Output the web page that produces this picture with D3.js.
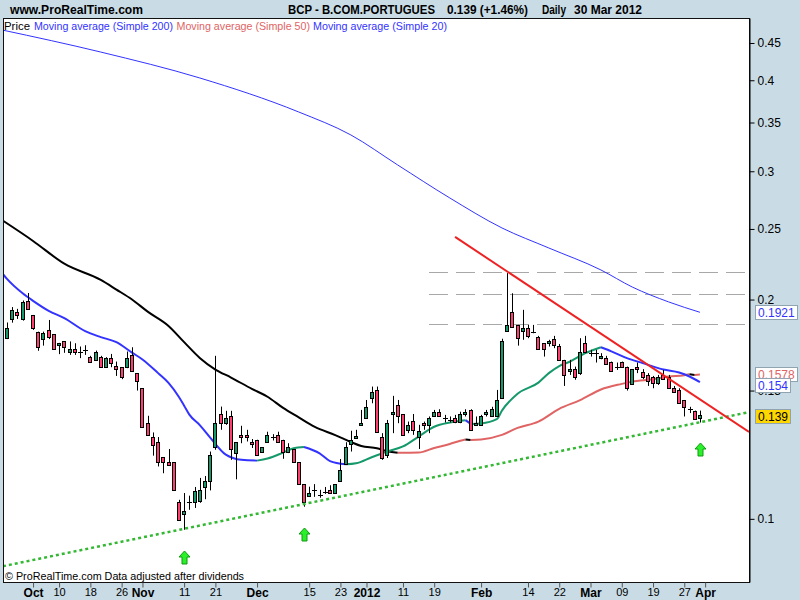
<!DOCTYPE html>
<html><head><meta charset="utf-8">
<script src="https://cdn.jsdelivr.net/npm/d3@7"></script>
<style>body{margin:0;background:#c9dce6;}svg{display:block}</style>
</head><body>
<svg id="c" width="800" height="600"></svg>
<script>
// ---------- DATA ----------
const dates = [
"2011-09-26","2011-09-27","2011-09-28","2011-09-29","2011-09-30",
"2011-10-03","2011-10-04","2011-10-05","2011-10-06","2011-10-07","2011-10-10","2011-10-11","2011-10-12","2011-10-13","2011-10-14","2011-10-17","2011-10-18","2011-10-19","2011-10-20","2011-10-21","2011-10-24","2011-10-25","2011-10-26","2011-10-27","2011-10-28","2011-10-31",
"2011-11-01","2011-11-02","2011-11-03","2011-11-04","2011-11-07","2011-11-08","2011-11-09","2011-11-10","2011-11-11","2011-11-14","2011-11-15","2011-11-16","2011-11-17","2011-11-18","2011-11-21","2011-11-22","2011-11-23","2011-11-24","2011-11-25","2011-11-28","2011-11-29","2011-11-30",
"2011-12-01","2011-12-02","2011-12-05","2011-12-06","2011-12-07","2011-12-08","2011-12-09","2011-12-12","2011-12-13","2011-12-14","2011-12-15","2011-12-16","2011-12-19","2011-12-20","2011-12-21","2011-12-22","2011-12-23","2011-12-27","2011-12-28","2011-12-29","2011-12-30",
"2012-01-02","2012-01-03","2012-01-04","2012-01-05","2012-01-06","2012-01-09","2012-01-10","2012-01-11","2012-01-12","2012-01-13","2012-01-16","2012-01-17","2012-01-18","2012-01-19","2012-01-20","2012-01-23","2012-01-24","2012-01-25","2012-01-26","2012-01-27","2012-01-30","2012-01-31",
"2012-02-01","2012-02-02","2012-02-03","2012-02-06","2012-02-07","2012-02-08","2012-02-09","2012-02-10","2012-02-13","2012-02-14","2012-02-15","2012-02-16","2012-02-17","2012-02-20","2012-02-21","2012-02-22","2012-02-23","2012-02-24","2012-02-27","2012-02-28","2012-02-29",
"2012-03-01","2012-03-02","2012-03-05","2012-03-06","2012-03-07","2012-03-08","2012-03-09","2012-03-12","2012-03-13","2012-03-14","2012-03-15","2012-03-16","2012-03-19","2012-03-20","2012-03-21","2012-03-22","2012-03-23","2012-03-26","2012-03-27","2012-03-28","2012-03-29","2012-03-30"];

const open = [
.1770,.1879,.1922,.1879,.1990,.1903,.1807,.1765,.1819,.1793,.1731,.1754,.1693,.1710,.1697,.1704,.1670,.1651,.1670,.1618,
.1662,.1622,.1615,.1615,.1681,.1585,.1511,.1353,.1295,.1274,.1215,.1196,.1196,.1054,.1015,.1054,.1055,.1059,.1105,.1126,
.1254,.1392,.1353,.1383,.1233,.1303,.1303,.1274,.1284,.1234,.1274,.1295,.1303,.1284,.1236,.1247,.1196,.1115,.1076,.1096,
.1078,.1090,.1094,.1085,.1126,.1190,.1267,.1293,.1345,.1374,.1464,.1503,.1295,.1224,.1392,.1434,.1392,.1325,.1364,.1297,
.1353,.1346,.1385,.1403,.1377,.1367,.1374,.1356,.1393,.1411,.1346,.1346,.1392,.1382,.1382,.1464,.1811,.1922,.1846,.1811,
.1830,.1807,.1779,.1742,.1742,.1765,.1727,.1653,.1597,.1605,.1585,.1742,.1688,.1688,.1662,.1662,.1641,.1618,.1641,.1618,
.1531,.1618,.1592,.1576,.1565,.1535,.1576,.1565,.1511,.1503,.1456,.1414,.1408,.1375];
const high = [
.1860,.1953,.1942,.1994,.2042,.1905,.1807,.1807,.1875,.1793,.1744,.1754,.1752,.1742,.1724,.1731,.1674,.1702,.1674,.1667,
.1684,.1644,.1615,.1697,.1720,.1585,.1511,.1385,.1314,.1295,.1215,.1247,.1196,.1062,.1085,.1076,.1106,.1138,.1145,.1237,
.1674,.1426,.1407,.1407,.1274,.1342,.1325,.1287,.1284,.1254,.1317,.1307,.1317,.1284,.1270,.1247,.1196,.1115,.1107,.1116,
.1096,.1106,.1112,.1115,.1208,.1274,.1321,.1325,.1411,.1456,.1519,.1519,.1311,.1367,.1475,.1456,.1392,.1360,.1393,.1346,
.1360,.1382,.1411,.1414,.1389,.1382,.1389,.1403,.1414,.1414,.1382,.1389,.1411,.1425,.1503,.1767,.2174,.2040,.1846,.1936,
.1846,.1846,.1783,.1742,.1761,.1783,.1738,.1653,.1653,.1618,.1770,.1783,.1706,.1706,.1688,.1674,.1644,.1639,.1644,.1618,
.1605,.1639,.1605,.1585,.1571,.1576,.1601,.1576,.1522,.1511,.1456,.1425,.1408,.1408];
const low = [
.1765,.1859,.1881,.1871,.1936,.1817,.1701,.1729,.1765,.1706,.1683,.1690,.1679,.1679,.1662,.1679,.1637,.1648,.1611,.1615,
.1615,.1571,.1555,.1610,.1591,.1500,.1336,.1303,.1221,.1180,.1155,.1185,.1095,.0997,.0966,.1029,.1035,.1052,.1064,.1094,
.1244,.1325,.1346,.1205,.1133,.1270,.1277,.1251,.1223,.1234,.1274,.1281,.1274,.1209,.1231,.1196,.1115,.1039,.1072,.1072,
.1069,.1082,.1085,.1085,.1126,.1190,.1237,.1293,.1345,.1374,.1441,.1315,.1205,.1212,.1311,.1353,.1301,.1311,.1304,.1247,
.1325,.1311,.1382,.1382,.1356,.1356,.1353,.1353,.1382,.1322,.1346,.1346,.1382,.1382,.1382,.1464,.1811,.1832,.1729,.1761,
.1770,.1798,.1706,.1670,.1724,.1715,.1653,.1522,.1576,.1552,.1576,.1688,.1670,.1639,.1656,.1627,.1592,.1601,.1615,.1500,
.1527,.1585,.1555,.1522,.1511,.1527,.1552,.1511,.1490,.1438,.1382,.1397,.1367,.1356];
const close = [
.1830,.1932,.1903,.1983,.1940,.1830,.1720,.1802,.1779,.1710,.1742,.1720,.1710,.1693,.1697,.1704,.1641,.1693,.1615,.1660,
.1639,.1605,.1565,.1660,.1594,.1544,.1336,.1303,.1264,.1196,.1196,.1185,.1095,.0997,.1025,.1054,.1093,.1094,.1126,.1224,
.1353,.1353,.1374,.1247,.1274,.1295,.1295,.1266,.1223,.1254,.1303,.1295,.1274,.1234,.1254,.1196,.1115,.1053,.1085,.1096,
.1078,.1090,.1085,.1115,.1167,.1254,.1284,.1301,.1353,.1422,.1492,.1315,.1211,.1353,.1403,.1385,.1304,.1346,.1325,.1322,
.1346,.1374,.1403,.1385,.1377,.1367,.1356,.1392,.1403,.1325,.1353,.1382,.1403,.1414,.1456,.1755,.1846,.1832,.1770,.1830,
.1783,.1807,.1710,.1710,.1755,.1733,.1653,.1576,.1605,.1565,.1693,.1693,.1688,.1688,.1674,.1632,.1596,.1618,.1618,.1511,
.1605,.1605,.1565,.1544,.1535,.1565,.1557,.1511,.1492,.1441,.1424,.1414,.1370,.1390];

// Moving averages (sample dates + values)
const sma200Dates = ["2011-09-23","2011-10-20","2011-11-16","2011-12-13","2011-12-28","2012-01-10","2012-01-24","2012-02-07","2012-02-20","2012-03-05","2012-03-13","2012-03-22","2012-03-30"];
const sma200 = [0.4690,0.4373,0.4029,0.3618,0.3365,0.3060,0.2757,0.2508,0.2354,0.2196,0.2081,0.1985,0.1921];

const sma50Dates = ["2011-09-23","2011-10-03","2011-10-11","2011-10-20","2011-10-25","2011-10-28","2011-11-02","2011-11-08","2011-11-11","2011-11-16","2011-11-21","2011-11-24","2011-11-30","2011-12-05","2011-12-08","2011-12-13","2011-12-16","2011-12-22","2011-12-28","2011-12-30","2012-01-04","2012-01-06","2012-01-10","2012-01-16","2012-01-19","2012-01-24","2012-01-26","2012-01-27","2012-01-30","2012-02-01","2012-02-07","2012-02-10","2012-02-16","2012-02-22","2012-02-28","2012-03-05","2012-03-09","2012-03-13","2012-03-19","2012-03-22","2012-03-27","2012-03-28","2012-03-29","2012-03-30"];
const sma50 = [0.2572,0.2407,0.2240,0.2128,0.2064,0.2000,0.1925,0.1840,0.1748,0.1663,0.1603,0.1563,0.1508,0.1471,0.1420,0.1378,0.1338,0.1303,0.1275,0.1259,0.1250,0.1238,0.1232,0.1233,0.1251,0.1267,0.1280,0.1285,0.1283,0.1285,0.1304,0.1333,0.1360,0.1416,0.1455,0.1505,0.1532,0.1543,0.1555,0.1568,0.1574,0.1579,0.1576,0.1578];

const sma20Dates = ["2011-09-23","2011-09-26","2011-09-29","2011-10-03","2011-10-06","2011-10-11","2011-10-17","2011-10-20","2011-10-25","2011-10-28","2011-11-01","2011-11-04","2011-11-08","2011-11-10","2011-11-11","2011-11-14","2011-11-16","2011-11-18","2011-11-23","2011-11-28","2011-12-01","2011-12-05","2011-12-08","2011-12-12","2011-12-14","2011-12-19","2011-12-21","2011-12-27","2011-12-29","2012-01-03","2012-01-06","2012-01-11","2012-01-16","2012-01-19","2012-01-24","2012-01-27","2012-01-30","2012-02-01","2012-02-06","2012-02-07","2012-02-10","2012-02-16","2012-02-20","2012-02-22","2012-02-24","2012-02-29","2012-03-05","2012-03-07","2012-03-12","2012-03-15","2012-03-21","2012-03-26","2012-03-28","2012-03-30"];
const sma20 = [0.2178,0.2135,0.2040,0.1992,0.1930,0.1886,0.1810,0.1776,0.1748,0.1691,0.1655,0.1585,0.1537,0.1470,0.1430,0.1390,0.1345,0.1293,0.1225,0.1205,0.1202,0.1210,0.1233,0.1250,0.1255,0.1230,0.1200,0.1188,0.1192,0.1215,0.1237,0.1257,0.1297,0.1338,0.1356,0.1366,0.1350,0.1352,0.1370,0.1408,0.1485,0.1538,0.1585,0.1621,0.1643,0.1688,0.1720,0.1698,0.1662,0.1636,0.1603,0.1588,0.1568,0.1540];

// drawn objects
const levelValues = [0.2181, 0.2036, 0.1849];
const levelStart = "2012-01-18";
const resistDates = ["2012-01-25","2012-03-30"];
const resistValues = [0.2438, 0.1459];
const supportDates = ["2011-11-11","2012-03-30"];
const supportValues = [0.0969, 0.1357];
const signalDates = ["2011-11-11","2011-12-14","2012-03-30"];

const yTicks = [0.1,0.15,0.2,0.25,0.3,0.35,0.4,0.45];
const yTickLabels = ["0.1","0.15","0.2","0.25","0.3","0.35","0.4","0.45"];
const xTickDates = ["2011-10-03","2011-10-10","2011-10-18","2011-10-26","2011-11-01","2011-11-11","2011-11-21","2011-12-01","2011-12-15","2011-12-23","2012-01-02","2012-01-11","2012-01-19","2012-02-01","2012-02-14","2012-02-22","2012-03-01","2012-03-09","2012-03-19","2012-03-27","2012-04-02"];
const xTickLabels = ["Oct","10","18","26","Nov","11","21","Dec","15","23","2012","11","19","Feb","14","22","Mar","09","19","27","Apr"];

// ---------- CHART ----------
const FONT = "'Liberation Sans', Arial, sans-serif";
const C = {bg:"#c9dce6", up:"#15996b", down:"#ff3d70", blue:"#3333ff", salmon:"#e06464", red:"#ee2222", dot:"#33b833"};
const P = {l:3, r:749, t:18, b:582};

function dayIndex(s){
  const k = dates.indexOf(s); if (k >= 0) return k;
  const t = new Date(s+"T00:00:00Z");
  const first = new Date(dates[0]+"T00:00:00Z"), last = new Date(dates[dates.length-1]+"T00:00:00Z");
  const wd = (a,b)=>{ let n=0; const d=new Date(a); while(d<b){ d.setUTCDate(d.getUTCDate()+1); const w=d.getUTCDay(); if(w!==0&&w!==6) n++; } return n; };
  if (t > last) return dates.length-1 + wd(last,t);
  return -wd(t, first);
}

const x = d3.scaleLinear().domain([-0.768, 142.42]).range([P.l, P.r]);
const y = d3.scaleLog().domain([0.0819, 0.487]).range([P.b, P.t]);

const svg = d3.select("#c");
svg.append("rect").attr("width",800).attr("height",600).attr("fill",C.bg);
svg.append("rect").attr("x",P.l).attr("y",P.t).attr("width",P.r-P.l).attr("height",P.b-P.t).attr("fill","#fff");
svg.append("defs").append("clipPath").attr("id","clip").append("rect")
  .attr("x",P.l+1).attr("y",P.t+1).attr("width",P.r-P.l-1).attr("height",P.b-P.t-1);
const g = svg.append("g").attr("clip-path","url(#clip)");

// horizontal dashed levels
levelValues.forEach(v=>{
  g.append("line").attr("x1",x(dayIndex(levelStart))).attr("x2",P.r)
   .attr("y1",Math.round(y(v))+0.5).attr("y2",Math.round(y(v))+0.5)
   .attr("stroke","#a8a8a8").attr("stroke-width",1).attr("stroke-dasharray","19,8");
});

const line = d3.line().x(d=>x(d.i)).y(d=>y(d.v)).curve(d3.curveMonotoneX);
function pts(ds, vs){ return ds.map((d,k)=>({i:dayIndex(d), v:vs[k]})); }
function colored(p, upCol, downCol, w){
  const runs=[]; let cur=null;
  for(let k=1;k<p.length;k++){
    const up = p[k].v >= p[k-1].v;
    if(!cur || cur.up!==up){ cur={up, p:[p[k-1]]}; runs.push(cur); }
    cur.p.push(p[k]);
  }
  runs.forEach(r=>g.append("path").attr("d",line(r.p)).attr("fill","none")
    .attr("stroke", r.up?upCol:downCol).attr("stroke-width",w).attr("stroke-linejoin","round"));
}
g.append("path").attr("d",line(pts(sma200Dates,sma200))).attr("fill","none").attr("stroke",C.blue).attr("stroke-width",1);
colored(pts(sma50Dates,sma50), C.salmon, "#000", 2);
colored(pts(sma20Dates,sma20), C.up, C.blue, 2);

// candles
dates.forEach((d,i)=>{
  const px = Math.round(x(i));
  g.append("line").attr("x1",px+0.5).attr("x2",px+0.5).attr("y1",y(high[i])).attr("y2",y(low[i]))
    .attr("stroke","#000").attr("stroke-width",1);
  const yo=y(open[i]), yc=y(close[i]);
  if (Math.abs(yo-yc) < 1) {
    const yy = Math.round(yo)+0.5;
    g.append("line").attr("x1",px-2).attr("x2",px+3).attr("y1",yy).attr("y2",yy).attr("stroke","#000");
  } else {
    const top=Math.round(Math.min(yo,yc))+0.5, bot=Math.round(Math.max(yo,yc))+0.5;
    g.append("rect").attr("x",px-1.5).attr("y",top).attr("width",3).attr("height",bot-top)
      .attr("fill", close[i]>=open[i]?C.up:C.down).attr("stroke","#000").attr("stroke-width",1);
  }
});

// trend lines (straight in pixel space, extended)
function pixLine(ds, vs){ const a=[x(dayIndex(ds[0])), y(vs[0])], b=[x(dayIndex(ds[1])), y(vs[1])]; const m=(b[1]-a[1])/(b[0]-a[0]); return {a,b,m}; }
const sp = pixLine(supportDates, supportValues);
g.append("line").attr("x1",P.l).attr("y1",sp.a[1]+(P.l-sp.a[0])*sp.m).attr("x2",P.r).attr("y2",sp.a[1]+(P.r-sp.a[0])*sp.m)
  .attr("stroke",C.dot).attr("stroke-width",2.5).attr("stroke-dasharray","3,3");
const rp = pixLine(resistDates, resistValues);
g.append("line").attr("x1",rp.a[0]).attr("y1",rp.a[1]).attr("x2",P.r).attr("y2",rp.a[1]+(P.r-rp.a[0])*rp.m)
  .attr("stroke",C.red).attr("stroke-width",2);

// signal arrows
signalDates.forEach(s=>{
  const i = dayIndex(s), cx = Math.round(x(i))+0.5, ty = Math.round(y(low[i]))+21;
  const a = [[0,0],[5.5,6],[2.5,6],[2.5,13],[-2.5,13],[-2.5,6],[-5.5,6]].map(p=>[cx+p[0],ty+p[1]]);
  g.append("polygon").attr("points",a.map(p=>p.join(",")).join(" ")).attr("fill","#2af02a").attr("stroke","#119911").attr("stroke-width",1);
});

// legend + footer inside plot
function txt(sel, s, xx, yy, opt){
  const t = sel.append("text").attr("x",xx).attr("y",yy).text(s)
    .attr("font-family",FONT).attr("font-size",opt.size||11).attr("fill",opt.fill||"#000")
    .attr("font-weight",opt.bold?"bold":"normal");
  if (opt.w) t.attr("textLength",opt.w).attr("lengthAdjust","spacingAndGlyphs");
  if (opt.anchor) t.attr("text-anchor",opt.anchor);
  return t;
}
txt(svg,"Price",4,30,{w:26});
txt(svg,"Moving average (Simple 200)",34,30,{w:139,fill:C.blue});
txt(svg,"Moving average (Simple 50)",176.5,30,{w:133.5,fill:C.salmon});
txt(svg,"Moving average (Simple 20)",313,30,{w:134,fill:C.blue});
txt(svg,"© ProRealTime.com  Data adjusted after dividends",5,580,{w:239});

// border
svg.append("rect").attr("x",P.l+0.5).attr("y",P.t+0.5).attr("width",P.r-P.l).attr("height",P.b-P.t)
  .attr("fill","none").attr("stroke","#111").attr("stroke-width",1);

// title
txt(svg,"www.ProRealTime.com",10,14,{w:133,bold:true,size:12});
txt(svg,"BCP - B.COM.PORTUGUES",288,14,{w:147,bold:true,size:12});
txt(svg,"0.139 (+1.46%)",447,14,{w:81,bold:true,size:12});
txt(svg,"Daily",542,14,{w:24,bold:true,size:12});
txt(svg,"30 Mar 2012",574,14,{w:68,bold:true,size:12});

// axes
const ya = svg.append("g").attr("transform",`translate(${P.r+0.5},0)`)
  .call(d3.axisRight(y).tickValues(yTicks).tickFormat((d,k)=>yTickLabels[k]).tickSize(5).tickSizeOuter(0).tickPadding(3));
ya.select(".domain").attr("stroke","#000");
ya.selectAll("text").attr("font-family",FONT).attr("font-size",12).attr("fill","#000");
ya.selectAll(".tick line").attr("stroke","#000");

const xa = svg.append("g").attr("transform",`translate(0,${P.b+0.5})`)
  .call(d3.axisBottom(x).tickValues(xTickDates.map(dayIndex)).tickFormat((d,k)=>xTickLabels[k]).tickSize(5).tickSizeOuter(0).tickPadding(1));
xa.select(".domain").remove();
xa.selectAll(".tick line").attr("stroke","#555");
xa.selectAll("text").attr("font-family",FONT).attr("fill","#000")
  .attr("font-size",(d,k)=>/^[A-Z]|^\d{4}$/.test(xTickLabels[k])?12:11)
  .attr("font-weight",(d,k)=>/^[A-Z]|^\d{4}$/.test(xTickLabels[k])?"bold":"normal");

// last-value boxes (drawn in the order the platform stacks them)
const lastLabels = [
  {v: sma200[sma200.length-1], col: C.blue, fill:"#fff", dy:0.5},
  {v: sma50[sma50.length-1], col: C.salmon, fill:"#fff", dy:0},
  {v: sma20[sma20.length-1], col: C.blue, fill:"#fff", dy:3},
  {v: close[close.length-1], col: "#000", fill:"#ffd700", dy:1.5}
];
lastLabels.forEach(L=>{
  const s = String(+L.v.toFixed(4));
  const cy = y(L.v) + L.dy;
  const bg = svg.append("g");
  const t = txt(bg, s, 758, cy+4.5, {size:12, fill:L.col});
  const w = t.node().getComputedTextLength();
  bg.insert("rect","text").attr("x",755.5).attr("y",Math.round(cy-7.5)+0.5).attr("width",Math.round(w)+5).attr("height",14)
    .attr("fill",L.fill).attr("stroke","#8fa3b0");
});
</script>
</body></html>
